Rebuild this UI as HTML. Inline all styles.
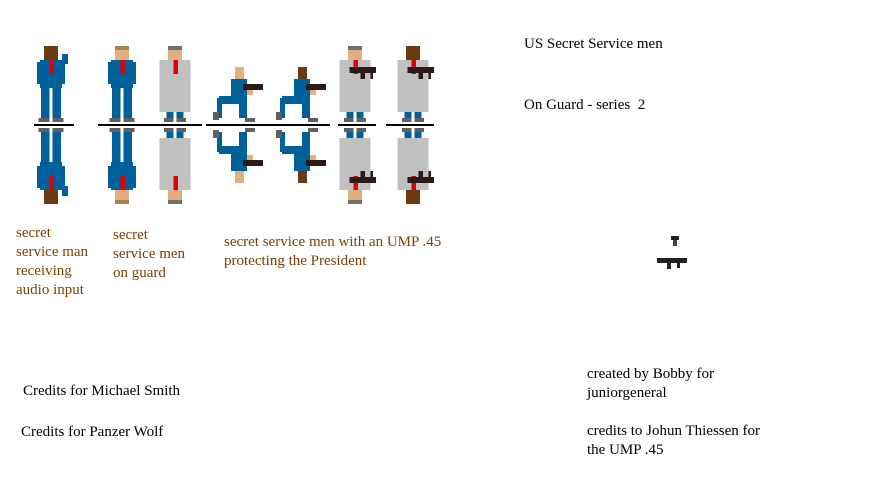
<!DOCTYPE html>
<html><head><style>
body{margin:0;width:874px;height:483px;background:#fff;position:relative;overflow:hidden;font-family:"Liberation Serif",serif;font-size:15px;line-height:19px}
.t{position:absolute;white-space:pre}
.b{color:#7b3f00}
svg{position:absolute;left:0;top:0}
</style></head><body>
<svg width="874" height="483" shape-rendering="crispEdges">
<defs>
<g id="suit">
<rect x="-5" y="0" width="10" height="14" fill="#e0b080"/>
<rect x="-5" y="0" width="10" height="4" fill="#b08050"/>
<rect x="-8" y="14" width="16" height="28" fill="#00609a"/>
<rect x="-10" y="16" width="3" height="22" fill="#00609a"/>
<rect x="7" y="16" width="3" height="22" fill="#00609a"/>
<rect x="-1" y="14" width="3" height="14" fill="#e00000"/>
<rect x="-7" y="42" width="6" height="30" fill="#00609a"/>
<rect x="1" y="42" width="6" height="30" fill="#00609a"/>
<rect x="-9" y="72" width="8" height="4" fill="#606060"/>
<rect x="1" y="72" width="8" height="4" fill="#606060"/>
</g>
<g id="coat">
<rect x="-5" y="0" width="10" height="14" fill="#e0b080"/>
<rect x="-5" y="0" width="10" height="4" fill="#707070"/>
<rect x="-11" y="14" width="22" height="52" fill="#c0c0c0"/>
<rect x="-1" y="14" width="3" height="14" fill="#e00000"/>
<rect x="-6" y="66" width="5" height="6" fill="#00609a"/>
<rect x="1" y="66" width="5" height="6" fill="#00609a"/>
<rect x="-8" y="72" width="7" height="4" fill="#606060"/>
<rect x="1" y="72" width="7" height="4" fill="#606060"/>
</g>
<g id="kneel">
<rect x="2" y="21" width="9" height="12" fill="#e0b080"/>
<rect x="-2" y="33" width="16" height="20" fill="#00609a"/>
<rect x="-14" y="50" width="22" height="8" fill="#00609a"/>
<rect x="-16" y="52" width="5" height="20" fill="#00609a"/>
<rect x="6" y="52" width="8" height="20" fill="#00609a"/>
<rect x="-20" y="66" width="6" height="8" fill="#606060"/>
<rect x="12" y="72" width="10" height="4" fill="#606060"/>
<rect x="10" y="38" width="20" height="6" fill="#2a1a1a"/>
<rect x="14" y="44" width="6" height="5" fill="#e0b080"/>
</g>
<g id="coatgun">
<use href="#coat"/>
<rect x="-4" y="21" width="19" height="6" fill="#2a1a1a"/>
<rect x="4" y="27" width="3" height="6" fill="#2a1a1a"/>
<rect x="11" y="27" width="2" height="6" fill="#2a1a1a"/>
</g>
</defs>
<g fill="#000">
<rect x="34" y="124" width="40" height="2"/>
<rect x="98" y="124" width="104" height="2"/>
<rect x="206" y="124" width="124" height="2"/>
<rect x="338" y="124" width="38" height="2"/>
<rect x="386" y="124" width="48" height="2"/>
</g>
<g id="top">
<g transform="translate(51,46) scale(1.4,1)"><use href="#suit"/><rect x="-5" y="0" width="10" height="14" fill="#6b3a10"/><rect x="-1" y="14" width="3" height="14" fill="#e00000"/><rect x="8" y="8" width="4" height="10" fill="#00609a"/></g>
<g transform="translate(122,46) scale(1.4,1)"><use href="#suit"/></g>
<g transform="translate(175,46) scale(1.4,1)"><use href="#coat"/></g>
<g transform="translate(233,46)"><use href="#kneel"/></g>
<g transform="translate(296,46)"><use href="#kneel"/><rect x="2" y="21" width="9" height="12" fill="#6b3a10"/></g>
<g transform="translate(355,46) scale(1.4,1)"><use href="#coatgun"/></g>
<g transform="translate(413,46) scale(1.4,1)"><use href="#coatgun"/><rect x="-5" y="0" width="10" height="14" fill="#6b3a10"/><rect x="-1" y="14" width="3" height="7" fill="#e00000"/></g>
</g>
<use href="#top" transform="translate(0,250) scale(1,-1)"/>
<g transform="translate(657,236)">
<rect x="14" y="0" width="8" height="4" fill="#222"/><rect x="16" y="4" width="4" height="6" fill="#444"/>
<rect x="0" y="22" width="30" height="5" fill="#222"/><rect x="10" y="27" width="4" height="6" fill="#222"/><rect x="20" y="27" width="3" height="5" fill="#222"/>
</g>
</svg>
<div class="t" style="left:524px;top:35px">US Secret Service men</div>
<div class="t" style="left:524px;top:96px">On Guard - series  2</div>
<div class="t b" style="left:16px;top:224px">secret
service man
receiving
audio input</div>
<div class="t b" style="left:113px;top:226px">secret
service men
on guard</div>
<div class="t b" style="left:224px;top:233px">secret service men with an UMP .45
protecting the President</div>
<div class="t" style="left:23px;top:382px">Credits for Michael Smith</div>
<div class="t" style="left:21px;top:423px">Credits for Panzer Wolf</div>
<div class="t" style="left:587px;top:365px">created by Bobby for
juniorgeneral</div>
<div class="t" style="left:587px;top:422px">credits to Johun Thiessen for
the UMP .45</div>
</body></html>
